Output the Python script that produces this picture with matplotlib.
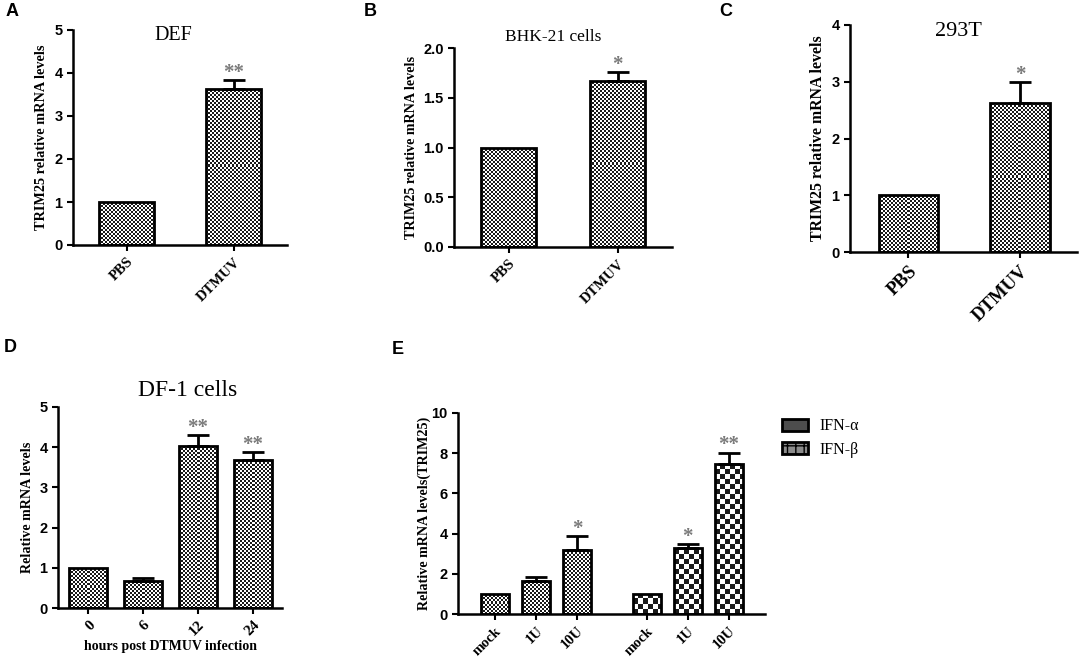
import numpy as np
import matplotlib.pyplot as plt
from matplotlib.colors import ListedColormap
from matplotlib.patches import Patch

# panel A - DEF
a_labels = ["PBS", "DTMUV"]
a_vals = [1.0, 3.63]
a_err = [0, 0.21]
a_stars = ["", "**"]

# panel B - BHK-21
b_labels = ["PBS", "DTMUV"]
b_vals = [1.0, 1.67]
b_err = [0, 0.09]
b_stars = ["", "*"]

# panel C - 293T
c_labels = ["PBS", "DTMUV"]
c_vals = [1.0, 2.63]
c_err = [0, 0.37]
c_stars = ["", "*"]

# panel D - DF-1 time course
d_labels = ["0", "6", "12", "24"]
d_vals = [1.0, 0.67, 4.02, 3.67]
d_err = [0, 0.07, 0.28, 0.20]
d_stars = ["", "", "**", "**"]

# panel E - interferon treatment
e_labels = ["mock", "1U", "10U"]
alpha_vals = [1.0, 1.62, 3.18]
alpha_err = [0, 0.24, 0.68]
alpha_stars = ["", "", "*"]
beta_vals = [1.0, 3.28, 7.45]
beta_err = [0, 0.20, 0.58]
beta_stars = ["", "*", "**"]

W, H = 1084, 669
fig = plt.figure(figsize=(W / 100, H / 100), dpi=100)

SERIF = "Liberation Serif"
SANS = "Liberation Sans"
check_cmap = ListedColormap(["#1a1a1a", "white"])


def px_axes(left, top, right, bottom):
    return fig.add_axes([left / W, 1 - bottom / H, (right - left) / W, (bottom - top) / H])


def checker(ax, bars, cell):
    for b in bars:
        x0, y0 = b.get_x(), b.get_y()
        x1, y1 = x0 + b.get_width(), y0 + b.get_height()
        (px0, py0), (px1, py1) = ax.transData.transform([(x0, y0), (x1, y1)])
        nx = max(int(round(px1 - px0)), 1)
        ny = max(int(round(py1 - py0)), 1)
        i, j = np.indices((ny, nx))
        tile = (i // cell + j // cell) % 2
        im = ax.imshow(tile, cmap=check_cmap, vmin=0, vmax=1, extent=(x0, x1, y0, y1),
                       origin="lower", aspect="auto", interpolation="nearest", zorder=1)
        im.set_clip_path(b)


def style(ax, xlim, ylim, yticks, fmt="%d"):
    ax.set_xlim(xlim)
    ax.set_ylim(ylim)
    for s in ["top", "right"]:
        ax.spines[s].set_visible(False)
    for s in ["left", "bottom"]:
        ax.spines[s].set_linewidth(1.8)
    ax.tick_params(direction="out", length=4, width=1.5)
    ax.set_yticks(yticks)
    ax.set_yticklabels([fmt % t for t in yticks], fontfamily=SANS, fontweight="bold", fontsize=10.5)


def bars_with_err(ax, x, vals, errs, stars, width):
    bars = ax.bar(x, vals, width, facecolor="none", edgecolor="black", linewidth=2, zorder=2)
    for xi, v, e, s in zip(x, vals, errs, stars):
        if e > 0:
            ax.errorbar(xi, v, yerr=[[0], [e]], fmt="none", ecolor="black",
                        elinewidth=2, capsize=8, capthick=2, zorder=3)
        if s:
            ax.annotate(s, (xi, v + e), xytext=(0, -2), textcoords="offset points",
                        ha="center", va="bottom", color="#7a7a7a", fontsize=15,
                        fontfamily=SERIF, fontweight="bold")
    return bars


def xlabels(ax, x, labels, size):
    ax.set_xticks(x)
    ax.set_xticklabels(labels, rotation=45, ha="right", rotation_mode="anchor",
                       fontfamily=SERIF, fontweight="bold", fontsize=size)


def ylabel(ax, text, size, xpos):
    ax.set_ylabel(text, fontfamily=SERIF, fontweight="bold", fontsize=size)
    ax.yaxis.set_label_coords(xpos, 0.5)


# A
ax = px_axes(73, 30, 287, 245)
style(ax, (-0.5, 1.5), (0, 5), [0, 1, 2, 3, 4, 5])
x = np.arange(len(a_vals))
bars = bars_with_err(ax, x, a_vals, a_err, a_stars, 0.52)
checker(ax, bars, 2)
style(ax, (-0.5, 1.5), (0, 5), [0, 1, 2, 3, 4, 5])
xlabels(ax, x, a_labels, 10.5)
ylabel(ax, "TRIM25 relative mRNA levels", 10.3, -0.117)

# B
ax = px_axes(454, 48, 672, 247)
style(ax, (-0.5, 1.5), (0, 2), [0, 0.5, 1.0, 1.5, 2.0], "%.1f")
x = np.arange(len(b_vals))
bars = bars_with_err(ax, x, b_vals, b_err, b_stars, 0.51)
checker(ax, bars, 2)
style(ax, (-0.5, 1.5), (0, 2), [0, 0.5, 1.0, 1.5, 2.0], "%.1f")
xlabels(ax, x, b_labels, 10.5)
ylabel(ax, "TRIM25 relative mRNA levels", 10.2, -0.165)

# C
ax = px_axes(850, 25, 1077, 252)
style(ax, (-0.52, 1.51), (0, 4), [0, 1, 2, 3, 4])
x = np.arange(len(c_vals))
bars = bars_with_err(ax, x, c_vals, c_err, c_stars, 0.53)
checker(ax, bars, 2)
style(ax, (-0.52, 1.51), (0, 4), [0, 1, 2, 3, 4])
xlabels(ax, x, c_labels, 13.5)
ylabel(ax, "TRIM25 relative mRNA levels", 11.4, -0.106)

# D
ax = px_axes(58, 407, 282, 608)
style(ax, (-0.55, 3.53), (0, 5), [0, 1, 2, 3, 4, 5])
x = np.arange(len(d_vals))
bars = bars_with_err(ax, x, d_vals, d_err, d_stars, 0.70)
checker(ax, bars, 2)
style(ax, (-0.55, 3.53), (0, 5), [0, 1, 2, 3, 4, 5])
xlabels(ax, x, d_labels, 11)
ylabel(ax, "Relative mRNA levels", 10.2, -0.107)
ax.set_xlabel("hours post DTMUV infection", fontfamily=SERIF, fontweight="bold", fontsize=10, labelpad=1)

# E
ax = px_axes(458, 413, 765, 614)
style(ax, (-0.9, 6.58), (0, 10), [0, 2, 4, 6, 8, 10])
xa = np.arange(3)
xb = xa + 3.7
bars_a = bars_with_err(ax, xa, alpha_vals, alpha_err, alpha_stars, 0.68)
bars_b = bars_with_err(ax, xb, beta_vals, beta_err, beta_stars, 0.68)
checker(ax, bars_a, 2)
checker(ax, bars_b, 5)
style(ax, (-0.9, 6.58), (0, 10), [0, 2, 4, 6, 8, 10])
xlabels(ax, np.concatenate([xa, xb]), e_labels + e_labels, 10.5)
ylabel(ax, "Relative mRNA levels(TRIM25)", 10.2, -0.088)
handles = [Patch(facecolor="0.3", edgecolor="black", linewidth=2),
           Patch(facecolor="0.55", edgecolor="black", linewidth=2, hatch="++")]
ax.legend(handles, ["IFN-\u03b1", "IFN-\u03b2"], loc="upper left", bbox_to_anchor=(1.01, 1.045),
          frameon=False, prop={"family": SERIF, "size": 11.5}, handlelength=1.6,
          handleheight=0.8, handletextpad=0.7, labelspacing=0.45)


# titles and panel letters
def ftext(px, py, s, **kw):
    fig.text(px / W, 1 - py / H, s, **kw)


ftext(173, 35, "DEF", ha="center", va="center", fontfamily=SERIF, fontsize=14.5)
ftext(553, 37, "BHK-21 cells", ha="center", va="center", fontfamily=SERIF, fontsize=12.5)
ftext(958, 32, "293T", ha="center", va="center", fontfamily=SERIF, fontsize=16)
ftext(188, 390, "DF-1 cells", ha="center", va="center", fontfamily=SERIF, fontsize=17)

for px, py, s in [(12, 12, "A"), (370, 12, "B"), (726, 12, "C"), (10, 348, "D"), (398, 350, "E")]:
    ftext(px, py, s, ha="center", va="center", fontfamily=SANS, fontweight="bold", fontsize=13)

fig.savefig("out.png", dpi=100, facecolor="white")
